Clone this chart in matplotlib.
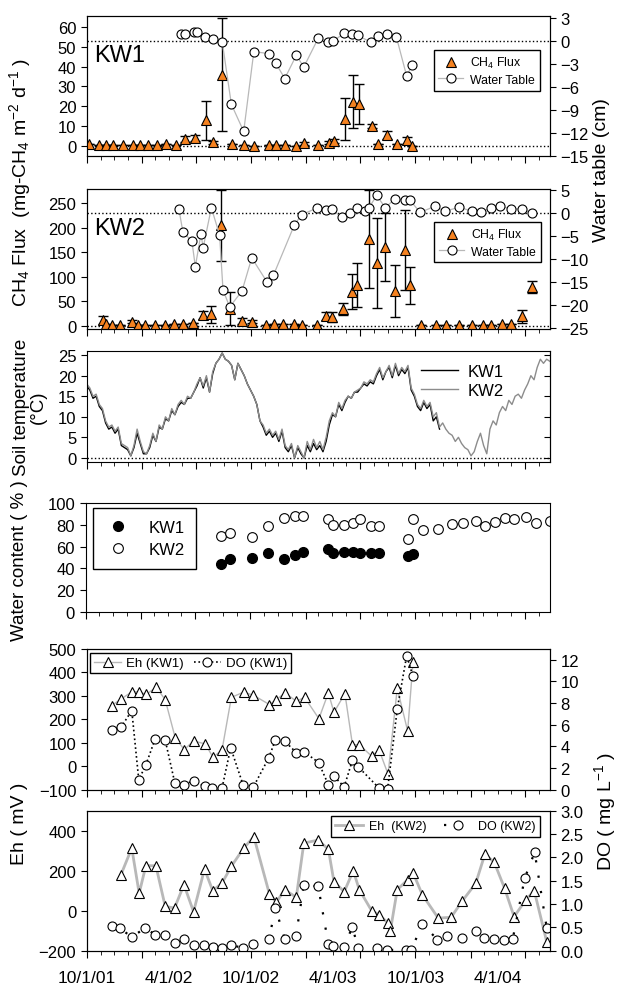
import numpy as np
import matplotlib
matplotlib.use("Agg")
import matplotlib.pyplot as plt
from matplotlib import dates as mdates
from matplotlib.ticker import NullFormatter, FormatStrFormatter
from datetime import datetime

plt.rcParams['font.family'] = ['Liberation Sans', 'DejaVu Sans']
plt.rcParams['mathtext.fontset'] = 'custom'
plt.rcParams['mathtext.rm'] = 'Liberation Sans'
plt.rcParams['mathtext.it'] = 'Liberation Sans:italic'
plt.rcParams['mathtext.default'] = 'regular'

# sampling times are given in months after 10/1/01
START = '2001-10-01'

# --- CH4 flux and water table, KW1
kw1_flux_month = [0.15, 0.93, 1.41, 1.95, 2.63, 3.41, 3.9, 4.44, 5.12, 5.8, 6.49, 7.2, 7.88, 8.68, 9.24,
                  9.9, 10.6, 11.46, 12.2, 13.3, 13.8, 14.5, 15.3, 15.85, 16.9, 17.7, 18.05, 18.85, 19.46,
                  19.9, 20.8, 21.3, 21.9, 22.67, 23.36, 23.77]
kw1_flux = [0.8, 0.7, 0.7, 0.5, 0.3, 0.5, 0.3, 0.5, 0.3, 0.8, 0.7, 3.7, 4.1, 13.0, 2.0, 35.9, 1.2, 0.5,
            0.2, 0.5, 0.7, 0.3, 0.0, 1.5, 0.3, 1.7, 2.4, 13.6, 22.4, 21.2, 10.2, 0.8, 5.4, 0.8, 2.9, 0.0]
kw1_flux_err = [0, 0, 0, 0, 0, 0, 0, 0, 0, 0, 0, 1.5, 1.5, 9.8, 0.8, 28.5, 0, 0, 0, 0, 0, 0, 0, 0.8, 0,
                0.8, 1.0, 10.5, 13.5, 10, 1.0, 0, 2.0, 0, 1.8, 0]
kw1_wt_month = [6.9, 7.17, 7.83, 8.07, 8.66, 9.22, 9.9, 10.56, 11.46, 12.2, 13.3, 13.8, 14.46, 15.3,
                15.85, 16.9, 17.6, 18.0, 18.8, 19.4, 19.8, 20.75, 21.3, 21.9, 22.6, 23.36, 23.77]
kw1_wt = [0.96, 0.96, 1.1, 1.1, 0.48, 0.22, -0.2, -8.26, -11.8, -1.4, -1.65, -2.9, -4.9, -1.87, -3.4,
          0.35, -0.1, 0.0, 1.0, 0.87, 0.74, -0.2, 0.65, 0.87, 0.56, -4.6, -3.1]

# --- CH4 flux and water table, KW2
kw2_flux_month = [1.22, 1.41, 1.83, 2.46, 3.29, 3.78, 4.29, 5.02, 5.68, 6.37, 7.02, 7.76, 8.49, 9.1,
                  9.78, 10.44, 11.34, 12.05, 13.1, 13.66, 14.3, 15.1, 15.7, 16.8, 17.5, 17.9, 18.7,
                  19.34, 19.7, 20.6, 21.17, 21.8, 22.5, 23.2, 23.6, 24.4, 25.47, 26.2, 27.2, 28.15,
                  28.9, 29.5, 30.3, 31.0, 31.8, 32.5]
kw2_flux = [11.8, 4.9, 2.8, 2.8, 8.4, 2.8, 2.8, 2.8, 2.8, 3.5, 4.9, 5.6, 22.3, 23.7, 204.7, 35.5, 11,
            8.4, 2.8, 4.2, 4.9, 4.9, 2.8, 2.8, 20, 18, 35.5, 70, 83.6, 177, 128, 161, 71, 154.6, 83,
            2.8, 2.8, 2.8, 2.8, 2.8, 2.8, 2.8, 3.5, 3.5, 20, 79]
kw2_flux_err = [8, 0, 0, 0, 3, 0, 0, 0, 0, 0, 0, 0, 8, 17, 73, 34, 6, 3, 0, 0, 0, 0, 0, 0, 8, 10, 12,
                36, 44, 100, 92, 70, 53, 82, 38, 0, 0, 0, 0, 0, 0, 0, 0, 0, 13, 12]
kw2_wt_month = [6.73, 7.02, 7.68, 7.93, 8.34, 8.5, 9.1, 9.7, 9.95, 10.44, 11.34, 12.05, 13.17, 13.63,
                15.15, 15.68, 16.78, 17.45, 17.9, 18.6, 19.2, 19.7, 20.3, 20.6, 21.17, 21.8, 22.5,
                23.2, 23.6, 24.33, 25.4, 26.15, 27.2, 28.1, 28.8, 29.5, 30.2, 31.0, 31.75, 32.5]
kw2_wt = [0.8, -4.1, -6.2, -11.7, -4.6, -7.6, 1.1, -4.8, -16.8, -20.5, -17, -9.8, -15.1, -13.6, -2.7,
          -0.4, 1.0, 0.6, 0.8, -1.0, -0.1, 1.1, 0.3, 1.1, 3.8, 1.1, 3.1, 2.8, 2.8, 0.1, 1.4, 0.4, 1.2,
          0.4, 0.2, 1.1, 1.5, 0.8, 0.9, -0.1]

# --- soil temperature, weekly readings from 10/1/01
kw1_temp = [17.5, 16.5, 14.5, 15, 12.5, 11.5, 8.5, 7, 7.5, 6, 7, 3, 2.5, 2, 0.5, 2.5, 6, 3.5, 1, 1,
            2.5, 5.5, 4, 7.5, 7, 9.5, 9, 11.5, 10.5, 12.5, 13.5, 13, 14.5, 14.5, 16, 17.5, 19.5, 17,
            19.5, 16, 20.5, 23, 24, 25.5, 24, 23.5, 22.5, 19, 23, 21.5, 20, 18, 16.5, 15, 13, 9, 7.5,
            5.5, 6.5, 5, 6, 4, 6.5, 2.5, 1.5, 3, 0, 2.5, 1, 0, 3, 1.5, 3.5, 2, 3, 1.5, 4, 8, 10.5, 10,
            13, 11.5, 13.5, 15, 14.5, 16, 16, 17, 18, 17.5, 18.5, 18, 20, 21.5, 19, 21, 22, 19.5,
            22.5, 20, 21.5, 20.5, 22, 16.5, 15, 12.5, 11.5, 13.5, 12, 13, 9, 10, 7]
kw2_temp = [18, 17, 15, 15.5, 13, 12, 9, 7.5, 8, 6.5, 7.5, 3.5, 3, 2.5, 0.5, 3, 7, 4, 1.5, 1, 3, 6, 4,
            8, 7, 10, 9, 12, 10.5, 13, 14, 13, 15, 14.5, 16, 18, 19.5, 17.5, 20, 16, 21, 23, 24, 25.5,
            24, 23.5, 22.5, 19, 23, 21.5, 20, 18, 16.5, 15, 13, 9, 8, 6, 7, 5.5, 6.5, 4.5, 7, 3, 2,
            3.5, 0, 3, 1.5, 0, 4, 2, 4.5, 2.5, 4, 2, 5, 9, 11, 10, 13.5, 12, 14, 15, 14.5, 16, 16.5,
            17, 18.5, 18, 19, 18.5, 20.5, 22, 19.5, 21, 22.5, 20, 23, 20.5, 22, 21, 22.5, 17, 15.5,
            13, 12, 14, 12.5, 13.5, 10, 11, 7.5, 8.5, 7, 6, 5.5, 4, 5, 3.5, 2.5, 2, 0.5, 1.5, 4, 6, 3,
            1, 7, 9, 8, 11, 12.5, 11.5, 14, 13, 15, 15.5, 14.5, 16.5, 18, 20, 19, 22, 24, 23, 24, 23.5]

# --- water content
kw1_wc_month = [9.88, 10.52, 12.15, 13.32, 14.46, 15.28, 15.86, 17.67, 18.05, 18.84, 19.48, 19.95,
                20.8, 21.35, 23.45, 23.83]
kw1_wc = [43.6, 48.2, 49.7, 54.3, 48.8, 52.1, 54.9, 57.9, 53.7, 54.9, 54.9, 54, 54, 54, 51.8, 53.4]
kw2_wc_month = [9.88, 10.52, 12.15, 13.32, 14.46, 15.28, 15.86, 17.67, 18.05, 18.84, 19.48, 19.95,
                20.8, 21.35, 23.45, 23.83, 24.56, 25.67, 26.66, 27.48, 28.42, 29.09, 29.82, 30.52,
                31.22, 32.1, 32.8, 33.8]
kw2_wc = [70.1, 72.9, 68.6, 79, 86.3, 88.1, 88.1, 85.4, 80.2, 80.2, 81.4, 85.7, 78.7, 78.7, 67, 85.7,
          75.3, 76.5, 80.8, 81.7, 83.2, 78.7, 82.9, 86.3, 85.4, 87.2, 81.4, 83.2]

# --- Eh and DO, KW1
kw1_eh_month = [1.83, 2.51, 3.29, 3.83, 4.34, 5.07, 5.73, 6.46, 7.12, 7.8, 8.66, 9.22, 9.88, 10.56,
                11.46, 12.17, 13.34, 13.83, 14.49, 15.3, 15.9, 16.95, 17.64, 18.05, 18.85, 19.4, 19.9,
                20.8, 21.34, 22.0, 22.67, 23.43, 23.82]
kw1_eh = [259, 287, 317, 317, 306, 337, 284, 122, 71, 108, 95, 38, 70, 294, 316, 303, 263, 284, 313,
          277, 294, 203, 313, 230, 310, 92, 92, 43, 70, -34, 333, 150, 445]
kw1_do_month = [1.83, 2.51, 3.29, 3.8, 4.32, 5.0, 5.73, 6.44, 7.07, 7.8, 8.6, 9.17, 9.88, 10.51, 11.41,
                12.15, 13.3, 13.78, 14.44, 15.3, 15.85, 16.93, 17.64, 18.05, 18.8, 19.4, 19.8, 21.34,
                21.97, 22.67, 23.36, 23.82]
kw1_do = [5.54, 5.78, 7.31, 0.92, 2.29, 4.71, 4.59, 0.58, 0.46, 0.83, 0.31, 0.15, 0.15, 3.88, 0.46,
          0.21, 2.97, 4.62, 4.5, 3.43, 3.52, 2.51, 0.46, 1.22, 0.28, 2.75, 2.14, 0.15, 0.09, 7.46,
          12.39, 10.46]

# --- Eh and DO, KW2
kw2_eh_month = [2.49, 3.29, 3.83, 4.32, 5.05, 5.73, 6.41, 7.1, 7.8, 8.6, 9.2, 9.88, 10.56, 11.46, 12.2,
                13.34, 13.85, 14.44, 15.3, 15.85, 16.88, 17.64, 18.05, 18.8, 19.46, 19.9, 20.8, 21.34,
                21.97, 22.16, 22.67, 23.43, 23.84, 24.5, 25.66, 26.6, 27.4, 28.4, 29.07, 29.75, 30.5,
                31.2, 32.04, 32.67, 33.58]
kw2_eh = [178, 313, 87, 225, 225, 22, 13, 130, -5, 208, 100, 138, 222, 313, 370, 83, 42, 105, 67, 338,
          353, 308, 145, 95, 200, 105, 0, -20, -60, -103, 105, 155, 187, 80, -37, -33, 47, 137, 283,
          242, 113, -30, 53, 100, -155]
kw2_do_month = [1.83, 2.44, 3.29, 4.27, 5.0, 5.73, 6.41, 7.12, 7.8, 8.59, 9.2, 9.88, 10.54, 11.41,
                12.15, 13.3, 13.78, 14.46, 15.27, 15.85, 16.9, 17.64, 18.0, 18.78, 19.4, 19.8, 21.2,
                21.9, 23.3, 23.7, 24.5, 25.6, 26.3, 27.4, 28.4, 29.0, 29.7, 30.44, 31.1, 31.97, 32.7,
                33.58]
kw2_do = [0.54, 0.48, 0.29, 0.49, 0.34, 0.34, 0.16, 0.25, 0.12, 0.13, 0.09, 0.05, 0.12, 0.06, 0.14,
          0.25, 0.91, 0.25, 0.31, 1.41, 1.38, 0.14, 0.11, 0.09, 0.51, 0.06, 0.05, 0.02, 0.01, 0.02,
          0.57, 0.24, 0.32, 0.27, 0.43, 0.27, 0.25, 0.24, 0.25, 1.55, 2.11, 0.49]

xtick_labels = ['10/1/01', '4/1/02', '10/1/02', '4/1/03', '10/1/03', '4/1/04']

ORANGE = '#F58220'
GREY = '#B8B8B8'
t0 = mdates.datestr2num(START)


def mx(months):
    return t0 + np.asarray(months, dtype=float) * 30.44


def px_axes(top, bottom, left=86.7, right=550.0):
    W, H = 625.0, 987.0
    return [left / W, 1 - bottom / H, (right - left) / W, (bottom - top) / H]


def style_x(ax):
    ax.set_xlim(t0, mx(33.82))
    ax.xaxis.set_major_locator(mdates.MonthLocator(bymonth=[2, 6, 10]))
    ax.xaxis.set_minor_locator(mdates.MonthLocator())
    ax.xaxis.set_major_formatter(NullFormatter())
    ax.tick_params(axis='x', which='major', length=5, direction='out')
    ax.tick_params(axis='x', which='minor', length=3, direction='out')
    ax.tick_params(axis='y', labelsize=12, direction='out', length=4)


def boxed(leg):
    leg.get_frame().set_linewidth(1)
    leg.set_zorder(10)
    return leg


fig = plt.figure(figsize=(6.25, 9.87), dpi=100)


def flux_panel(ax, name, fm, fv, fe, wm, wv, ylim, yticks, rlim, rticks, leg_anchor):
    style_x(ax)
    ax.axhline(0, color='black', ls=':', lw=1, zorder=1)
    ax.errorbar(mx(fm), fv, yerr=fe, fmt='none', ecolor='black', elinewidth=1,
                capsize=3.6, capthick=1, zorder=3)
    h1, = ax.plot(mx(fm), fv, ls='none', marker='^', ms=7.5, mfc=ORANGE, mec='black',
                  mew=0.8, zorder=4, label=r'CH$_4$ Flux')
    ax.set_ylim(*ylim)
    ax.set_yticks(yticks)
    ax.text(0.017, 0.72, name, transform=ax.transAxes, fontsize=17, va='center')
    axr = ax.twinx()
    axr.axhline(0, color='black', ls=':', lw=1)
    h2, = axr.plot(mx(wm), wv, color=GREY, lw=0.9, marker='o', ms=6.5, mfc='white',
                   mec='black', mew=0.8, label='Water Table')
    axr.set_ylim(*rlim)
    axr.set_yticks(rticks)
    axr.tick_params(axis='y', labelsize=12, direction='out', length=4)
    boxed(axr.legend(handles=[h1, h2], loc='upper right', bbox_to_anchor=leg_anchor,
                     bbox_transform=ax.transAxes, fontsize=8.8, frameon=True, fancybox=False,
                     edgecolor='black', framealpha=1, handlelength=2.0, borderpad=0.4,
                     labelspacing=0.3, handletextpad=0.6, borderaxespad=0))
    return axr


ax1 = fig.add_axes(px_axes(17, 157))
flux_panel(ax1, 'KW1', kw1_flux_month, kw1_flux, kw1_flux_err, kw1_wt_month, kw1_wt,
           (-5, 65.5), range(0, 61, 10), (-15, 3.25), range(-15, 4, 3), (0.978, 0.757))

ax2 = fig.add_axes(px_axes(190, 330))
flux_panel(ax2, 'KW2', kw2_flux_month, kw2_flux, kw2_flux_err, kw2_wt_month, kw2_wt,
           (-6, 279), range(0, 251, 50), (-25.3, 5.2), range(-25, 6, 5), (0.98, 0.765))

# soil temperature
ax3 = fig.add_axes(px_axes(352, 463))
style_x(ax3)
ax3.axhline(0, color='black', ls=':', lw=1)
ax3.plot(t0 + 7 * np.arange(len(kw1_temp)), kw1_temp, color='black', lw=1, label='KW1')
ax3.plot(t0 + 7 * np.arange(len(kw2_temp)), kw2_temp, color='#8C8C8C', lw=1, label='KW2')
ax3.set_ylim(-1, 26)
ax3.set_yticks(range(0, 26, 5))
sec3 = ax3.secondary_yaxis('right')
sec3.set_yticks(range(0, 26, 5))
sec3.tick_params(direction='in', length=4, labelright=False)
ax3.legend(loc='upper right', bbox_to_anchor=(0.915, 0.94), frameon=False, fontsize=12,
           handlelength=2.2, labelspacing=0.2, handletextpad=0.6, borderaxespad=0)

# water content
ax4 = fig.add_axes(px_axes(504, 613, left=85.5))
style_x(ax4)
ax4.plot(mx(kw1_wc_month), kw1_wc, ls='none', marker='o', ms=7, mfc='black', mec='black',
         label='KW1')
ax4.plot(mx(kw2_wc_month), kw2_wc, ls='none', marker='o', ms=7, mfc='white', mec='black',
         mew=0.8, label='KW2')
ax4.set_ylim(0, 100)
ax4.set_yticks(range(0, 101, 20))
boxed(ax4.legend(loc='upper left', bbox_to_anchor=(0.017, 0.954), fontsize=12, frameon=True,
                 fancybox=False, edgecolor='black', framealpha=1, handlelength=1.6,
                 borderpad=0.7, labelspacing=0.45, handletextpad=1.0, borderaxespad=0))

# Eh / DO KW1
ax5 = fig.add_axes(px_axes(650, 790.7))
style_x(ax5)
h5a, = ax5.plot(mx(kw1_eh_month), kw1_eh, color=GREY, lw=1, marker='^', ms=7, mfc='white',
                mec='black', mew=0.8, label='Eh (KW1)')
ax5.set_ylim(-100, 500)
ax5.set_yticks(range(-100, 501, 100))
ax5r = ax5.twinx()
h5b, = ax5r.plot(mx(kw1_do_month), kw1_do, color='black', ls=':', lw=1.2, marker='o', ms=6.5,
                 mfc='white', mec='black', mew=0.8, label='DO (KW1)')
ax5r.set_ylim(0, 13)
ax5r.set_yticks(range(0, 13, 2))
ax5r.tick_params(axis='y', labelsize=12, direction='out', length=4)
boxed(ax5r.legend(handles=[h5a, h5b], loc='upper left', bbox_to_anchor=(0.008, 0.972),
                  bbox_transform=ax5.transAxes, ncol=2, fontsize=9.5, frameon=True,
                  fancybox=False, edgecolor='black', framealpha=1, handlelength=2.0,
                  borderpad=0.3, columnspacing=0.8, handletextpad=0.4, borderaxespad=0))

# Eh / DO KW2
ax6 = fig.add_axes(px_axes(811.7, 951.7))
style_x(ax6)
h6a, = ax6.plot(mx(kw2_eh_month), kw2_eh, color=GREY, lw=2, marker='^', ms=7, mfc='white',
                mec='black', mew=0.8, label='Eh  (KW2)')
ax6.set_ylim(-200, 500)
ax6.set_yticks(range(-200, 401, 200))
ax6r = ax6.twinx()
h6b, = ax6r.plot(mx(kw2_do_month), kw2_do, color='black', ls=(0, (1, 6)), lw=1.6, marker='o',
                 ms=6.5, mfc='white', mec='black', mew=0.8, label='DO (KW2)')
ax6r.set_ylim(0, 3)
ax6r.set_yticks(np.arange(0, 3.01, 0.5))
ax6r.yaxis.set_major_formatter(FormatStrFormatter('%.1f'))
ax6r.tick_params(axis='y', labelsize=12, direction='out', length=4)
boxed(ax6r.legend(handles=[h6a, h6b], loc='upper right', bbox_to_anchor=(0.978, 0.962),
                  bbox_transform=ax6.transAxes, ncol=2, fontsize=9, frameon=True,
                  fancybox=False, edgecolor='black', framealpha=1, handlelength=2.2,
                  borderpad=0.35, columnspacing=1.4, handletextpad=0.5, borderaxespad=0))

# date labels under the bottom panel
label_pos = [mdates.date2num(datetime.strptime(s, '%m/%d/%y')) for s in xtick_labels]
sec6 = ax6.secondary_xaxis('bottom')
sec6.set_xticks(label_pos, xtick_labels)
sec6.tick_params(length=0, pad=14, labelsize=12.5)
sec6.spines['bottom'].set_visible(False)

# axis titles
fig.text(0.032, 0.815, r'CH$_4$ Flux  (mg-CH$_4$ m$^{-2}$ d$^{-1}$ )', rotation=90,
         ha='center', va='center', fontsize=14)
fig.text(0.962, 0.828, 'Water table (cm)', rotation=90, ha='center', va='center', fontsize=14)
fig.text(0.048, 0.587, 'Soil temperature\n(°C)', rotation=90, ha='center', va='center',
         fontsize=13.5, multialignment='center', linespacing=1.0)
fig.text(0.032, 0.432, 'Water content ( % )', rotation=90, ha='center', va='center',
         fontsize=13.5)
fig.text(0.032, 0.165, 'Eh ( mV )', rotation=90, ha='center', va='center', fontsize=14)
fig.text(0.968, 0.178, r'DO ( mg L$^{-1}$ )', rotation=90, ha='center', va='center',
         fontsize=14)

fig.savefig('out.png', dpi=100)
